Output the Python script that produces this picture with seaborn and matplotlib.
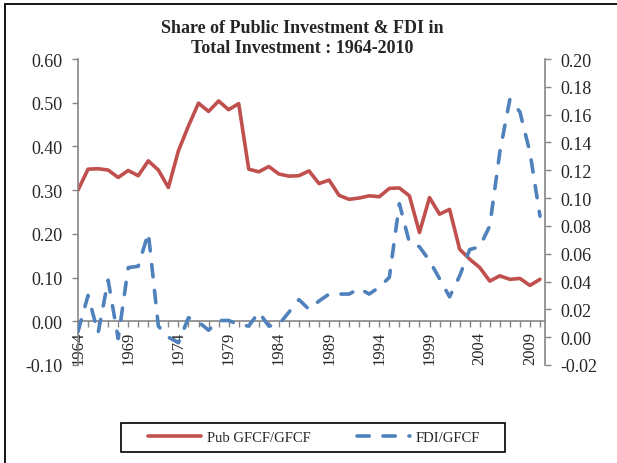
import pandas as pd
import matplotlib
matplotlib.use("Agg")
import matplotlib.pyplot as plt
import seaborn as sns
from matplotlib.patches import Rectangle

# ──────────────────────────────────────────────────────────────
# Data
# ──────────────────────────────────────────────────────────────
years = list(range(1964, 2011))

pub_gfcf = [0.300, 0.348, 0.349, 0.346, 0.329, 0.345, 0.333, 0.367, 0.346, 0.306,
            0.390, 0.447, 0.499, 0.480, 0.504, 0.484, 0.498, 0.348, 0.342, 0.354,
            0.337, 0.332, 0.333, 0.344, 0.315, 0.323, 0.288, 0.279, 0.282, 0.287,
            0.285, 0.304, 0.305, 0.287, 0.203, 0.283, 0.245, 0.256, 0.165, 0.142,
            0.123, 0.092, 0.104, 0.096, 0.098, 0.082, 0.096]

fdi_gfcf = [0.004, 0.030, 0.003, 0.041, -0.001, 0.050, 0.051, 0.075, 0.008, 0.000,
            -0.004, 0.014, 0.011, 0.005, 0.012, 0.012, 0.009, 0.008, 0.018, 0.008,
            0.009, 0.018, 0.027, 0.020, 0.026, 0.031, 0.031, 0.031, 0.035, 0.031,
            0.036, 0.043, 0.096, 0.068, 0.065, 0.055, 0.042, 0.029, 0.044, 0.063,
            0.065, 0.080, 0.133, 0.171, 0.162, 0.133, 0.087]

df = pd.DataFrame({"Year": years, "Pub GFCF/GFCF": pub_gfcf, "FDI/GFCF": fdi_gfcf})

# ──────────────────────────────────────────────────────────────
# Style
# ──────────────────────────────────────────────────────────────
sns.set_style("white")
plt.rcParams["font.family"] = ["Liberation Serif", "DejaVu Serif"]
plt.rcParams["font.size"] = 12

RED = "#C0504D"
BLUE = "#4F81BD"
GREY = "#868686"

fig = plt.figure(figsize=(6.17, 4.64), dpi=100)
ax1 = fig.add_axes([78 / 617, 1 - 366 / 464, (545 - 78) / 617, (366 - 60) / 464])
ax2 = ax1.twinx()

sns.lineplot(data=df, x="Year", y="Pub GFCF/GFCF", ax=ax1, color=RED,
             linewidth=2.6, legend=False)
sns.lineplot(data=df, x="Year", y="FDI/GFCF", ax=ax2, color=BLUE,
             linewidth=2.6, legend=False)
ax2.get_lines()[0].set_dashes((3.4, 3.8))
ax2.get_lines()[0].set_dash_capstyle("round")

# axes limits & ticks
ax1.set_xlim(1964, 2010.5)
ax1.set_ylim(-0.10, 0.60)
ax2.set_ylim(-0.02, 0.20)
ax1.set_yticks([i / 10 for i in range(-1, 7)])
ax1.set_yticklabels([f"{i / 10:.2f}" for i in range(-1, 7)])
ax2.set_yticks([i / 100 for i in range(-2, 21, 2)])
ax2.set_yticklabels([f"{i / 100:.2f}" for i in range(-2, 21, 2)])
ax1.set_xticks(years)
ax1.set_xticklabels([str(y) if (y - 1964) % 5 == 0 else "" for y in years])

ax1.set_xlabel("")
ax1.set_ylabel("")
ax2.set_ylabel("")

# spines: x axis sits at zero on the left scale
for s in ["top", "right"]:
    ax1.spines[s].set_visible(False)
for s in ["top", "bottom", "left"]:
    ax2.spines[s].set_visible(False)
ax1.spines["bottom"].set_position(("data", 0))
for sp in [ax1.spines["left"], ax1.spines["bottom"], ax2.spines["right"]]:
    sp.set_color(GREY)
    sp.set_linewidth(1.2)

ax1.tick_params(axis="y", direction="out", length=4, width=1, color=GREY,
                labelsize=13, pad=7, left=True)
ax1.tick_params(axis="x", direction="out", length=4, width=1, color=GREY,
                labelsize=12, pad=3, bottom=True, labelrotation=90)
ax2.tick_params(axis="y", direction="out", length=4, width=1, color=GREY,
                labelsize=13, pad=7, right=True)

# title
fig.text(0.49, 0.917, "Share of Public Investment & FDI in\nTotal Investment : 1964-2010",
         ha="center", va="center", fontsize=13, fontweight="bold", linespacing=1.2)

# legend (box drawn separately to match its width)
handles = [ax1.get_lines()[0], ax2.get_lines()[0]]
labels = ["Pub GFCF/GFCF", "FDI/GFCF"]
fig.legend(handles, labels, loc="center", bbox_to_anchor=(314 / 617, 1 - 438.5 / 464),
           ncol=2, frameon=False, fontsize=10.5, handlelength=3.6,
           handletextpad=0.4, columnspacing=3.2, borderaxespad=0)
fig.patches.append(Rectangle((121 / 617, 1 - 453 / 464), 384 / 617, 29 / 464,
                             transform=fig.transFigure, fill=False,
                             edgecolor="black", linewidth=1.2))

# outer chart border
fig.patches.append(Rectangle((5 / 617, -0.1), 1.2, 1.1 - 5 / 464, transform=fig.transFigure,
                             fill=False, edgecolor="black", linewidth=1.3))

fig.savefig("out.png", dpi=100)
